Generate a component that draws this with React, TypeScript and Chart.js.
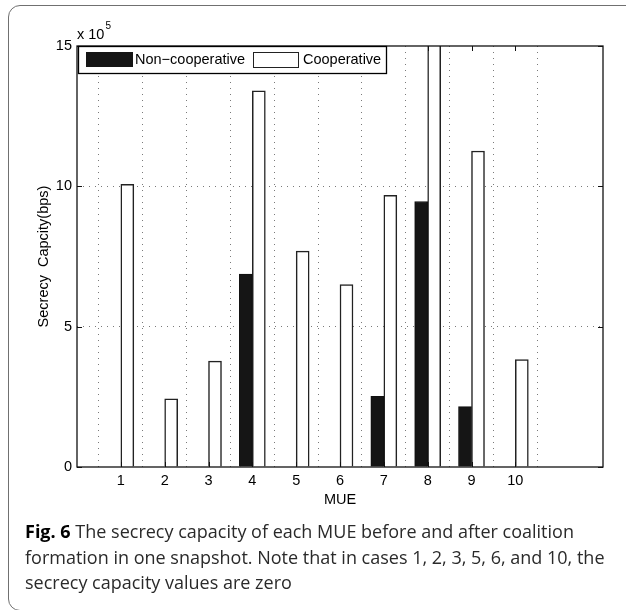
import React, { useEffect, useRef } from 'react';
import { Chart, registerables } from 'chart.js';

Chart.register(...registerables);

// ---- data ----
const categories = [1, 2, 3, 4, 5, 6, 7, 8, 9, 10];
const nonCooperative = [0, 0, 0, 6.87, 0, 0, 2.52, 9.46, 2.15, 0];
const cooperative = [10.07, 2.43, 3.77, 13.4, 7.69, 6.5, 9.68, 15.6, 11.26, 3.83];
const yTicks = [0, 5, 10, 15];
const seriesLabels = ['Non\u2212cooperative', 'Cooperative'];
const xLabel = 'MUE';
const yLabel = 'Secrecy  Capcity(bps)';
const yExponentBase = 'x 10';
const yExponent = '5';
const captionBold = 'Fig. 6';
const captionLines = [
  ' The secrecy capacity of each MUE before and after coalition',
  'formation in one snapshot. Note that in cases 1, 2, 3, 5, 6, and 10, the',
  'secrecy capacity values are zero',
];

const FONT = '"Liberation Sans", Arial, Helvetica, sans-serif';
const FS = 14.5;

const overlayPlugin = {
  id: 'overlay',
  afterDraw(chart: any) {
    const { ctx, chartArea: a, scales } = chart;
    const xs = scales.x;
    const ys = scales.y;
    ctx.save();
    // frame
    ctx.strokeStyle = '#111';
    ctx.lineWidth = 1.3;
    ctx.strokeRect(a.left, a.top, a.right - a.left, a.bottom - a.top);
    // inward tick marks
    const tl = 5;
    ctx.lineWidth = 1;
    ctx.beginPath();
    categories.forEach((c) => {
      const px = Math.round(xs.getPixelForValue(c)) + 0.5;
      ctx.moveTo(px, a.bottom);
      ctx.lineTo(px, a.bottom - tl);
      ctx.moveTo(px, a.top);
      ctx.lineTo(px, a.top + tl);
    });
    yTicks.forEach((v) => {
      const py = Math.round(ys.getPixelForValue(v)) + 0.5;
      ctx.moveTo(a.left, py);
      ctx.lineTo(a.left + tl, py);
      ctx.moveTo(a.right, py);
      ctx.lineTo(a.right - tl, py);
    });
    ctx.stroke();

    // exponent label
    ctx.fillStyle = '#000';
    ctx.textBaseline = 'alphabetic';
    ctx.textAlign = 'left';
    ctx.font = `${FS}px ${FONT}`;
    ctx.fillText(yExponentBase, a.left, a.top - 7);
    const w = ctx.measureText(yExponentBase).width;
    ctx.font = `10px ${FONT}`;
    ctx.fillText(yExponent, a.left + w + 1, a.top - 17);

    // legend
    const lx = a.left + 1;
    const ly = a.top;
    const lw = 308;
    const lh = 27;
    ctx.fillStyle = '#fff';
    ctx.fillRect(lx, ly, lw, lh);
    ctx.strokeStyle = '#000';
    ctx.lineWidth = 1.3;
    ctx.strokeRect(lx + 0.5, ly + 0.5, lw, lh);
    ctx.font = `${FS}px ${FONT}`;
    ctx.textBaseline = 'middle';
    const cy = ly + 14;
    // item 1
    ctx.fillStyle = '#151515';
    ctx.fillRect(a.left + 9, ly + 6, 47, 15);
    ctx.fillStyle = '#000';
    ctx.fillText(seriesLabels[0], a.left + 58, cy);
    // item 2
    ctx.fillStyle = '#fff';
    ctx.fillRect(a.left + 176, ly + 6, 45, 15);
    ctx.strokeStyle = '#222';
    ctx.lineWidth = 1;
    ctx.strokeRect(a.left + 176.5, ly + 6.5, 45, 15);
    ctx.fillStyle = '#000';
    ctx.fillText(seriesLabels[1], a.left + 226, cy);
    ctx.restore();
  },
};

export default function App() {
  const ref = useRef<HTMLCanvasElement>(null);
  useEffect(() => {
    if (!ref.current) return;
    const chart = new Chart(ref.current, {
      type: 'bar',
      data: {
        datasets: [
          {
            label: seriesLabels[0],
            data: categories.map((c, i) => ({ x: c, y: nonCooperative[i] })),
            backgroundColor: '#151515',
            borderColor: '#111',
            borderWidth: 1,
            barThickness: 13,
          },
          {
            label: seriesLabels[1],
            data: categories.map((c, i) => ({ x: c, y: cooperative[i] })),
            backgroundColor: '#ffffff',
            borderColor: '#222',
            borderWidth: 1.5,
            barThickness: 13,
          },
        ],
      } as any,
      options: {
        responsive: false,
        animation: false,
        devicePixelRatio: 1,
        layout: { padding: { top: 46, right: 23, left: 0, bottom: 0 } },
        plugins: { legend: { display: false }, tooltip: { enabled: false } },
        scales: {
          x: {
            type: 'linear',
            min: 0,
            max: 12,
            offset: false,
            grid: { color: '#7a7a7a', lineWidth: 1, drawTicks: false },
            border: { display: false, dash: [1, 5] },
            ticks: {
              stepSize: 1,
              autoSkip: false,
              maxRotation: 0,
              color: '#000',
              padding: 5,
              font: { family: FONT, size: FS },
              callback: (v: any) => (categories.includes(v) ? String(v) : null),
            },
            title: {
              display: true,
              text: xLabel,
              color: '#000',
              font: { family: FONT, size: FS },
              padding: { top: 0, bottom: 11 },
            },
            afterFit: (s: any) => {
              s.height = 53;
            },
          },
          y: {
            min: 0,
            max: 15,
            grid: {
              color: (c: any) =>
                c.tick && (c.tick.value === 5 || c.tick.value === 10) ? '#7a7a7a' : 'rgba(0,0,0,0)',
              lineWidth: 1,
              drawTicks: false,
            },
            border: { display: false, dash: [1, 5] },
            ticks: {
              stepSize: 5,
              color: '#000',
              padding: 5,
              font: { family: FONT, size: FS },
              callback: (v: any) => (yTicks.includes(v) ? String(v) : null),
            },
            title: {
              display: true,
              text: yLabel,
              color: '#000',
              font: { family: FONT, size: FS },
              padding: { top: 35, bottom: 0 },
            },
            afterFit: (s: any) => {
              s.width = 77;
            },
          },
        },
      } as any,
      plugins: [overlayPlugin],
    });
    return () => chart.destroy();
  }, []);

  return (
    <div
      style={{
        position: 'fixed',
        left: 0,
        top: 0,
        width: 626,
        height: 610,
        overflow: 'hidden',
        background: '#fff',
      }}
    >
      <div
        style={{
          position: 'absolute',
          left: 8,
          top: 5,
          width: 700,
          height: 606,
          border: '1.5px solid #707070',
          borderRadius: 12,
          boxSizing: 'border-box',
        }}
      />
      <canvas
        ref={ref}
        width={626}
        height={520}
        style={{ position: 'absolute', left: 0, top: 0, width: 626, height: 520 }}
      />
      <div
        style={{
          position: 'absolute',
          left: 25,
          top: 519,
          fontFamily: '"Open Sans", "Noto Sans", sans-serif',
          fontSize: 18,
          lineHeight: '25.5px',
          color: '#2a2a2a',
          whiteSpace: 'nowrap',
        }}
      >
        <div>
          <span style={{ fontWeight: 700, color: '#000' }}>{captionBold}</span>
          {captionLines[0]}
        </div>
        <div>{captionLines[1]}</div>
        <div>{captionLines[2]}</div>
      </div>
    </div>
  );
}
